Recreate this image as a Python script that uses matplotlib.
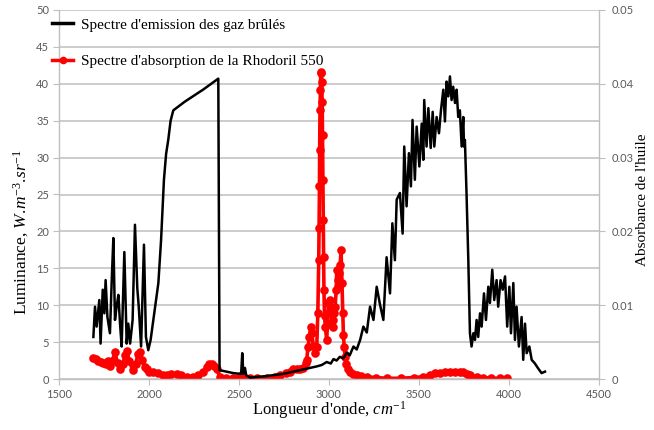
import matplotlib
matplotlib.use('Agg')
import matplotlib.pyplot as plt
from matplotlib.ticker import MultipleLocator, FuncFormatter
from matplotlib.lines import Line2D

plt.rcParams['mathtext.fontset'] = 'custom'
plt.rcParams['mathtext.rm'] = 'Liberation Serif'
plt.rcParams['mathtext.it'] = 'Liberation Serif:italic'

# ---------------- data ----------------
black_wn = [1691, 1700, 1709, 1724, 1731, 1743, 1752, 1759, 1769, 1783,
            1793, 1802, 1811, 1820, 1830, 1839, 1848, 1863, 1876, 1885,
            1895, 1909, 1922, 1935, 1943, 1956, 1972, 1983, 1996, 2009,
            2024, 2052, 2067, 2083, 2095, 2107, 2120, 2135, 2200, 2300,
            2385, 2392, 2468, 2505, 2512, 2518, 2524, 2533, 2540, 2561,
            2653, 2746, 2839, 2931, 2960, 2987, 3010, 3025, 3042, 3060,
            3080, 3100, 3115, 3136, 3154, 3173, 3191, 3210, 3228, 3247,
            3265, 3284, 3302, 3320, 3339, 3352, 3366, 3376, 3394, 3409,
            3418, 3431, 3444, 3455, 3464, 3477, 3487, 3502, 3515, 3524,
            3529, 3542, 3552, 3565, 3576, 3585, 3598, 3611, 3622, 3635,
            3644, 3653, 3663, 3672, 3681, 3690, 3700, 3709, 3718, 3727,
            3737, 3746, 3750, 3755, 3764, 3774, 3783, 3792, 3802, 3811,
            3820, 3829, 3839, 3848, 3861, 3872, 3885, 3894, 3907, 3918,
            3931, 3940, 3953, 3965, 3978, 3990, 4002, 4011, 4024, 4033,
            4042, 4055, 4070, 4079, 4089, 4098, 4113, 4126, 4144, 4163,
            4181, 4200]
black_lum = [5.7, 9.8, 7.1, 10.7, 4.8, 12.1, 8.9, 13.4, 8.4, 6.2,
             13.4, 19.1, 8.0, 9.8, 11.4, 7.5, 4.4, 17.2, 4.8, 7.5,
             4.8, 8.0, 20.9, 12.3, 9.8, 4.4, 18.2, 5.7, 3.9, 5.3,
             8.0, 13.0, 18.8, 27.0, 30.5, 32.4, 35.0, 36.4, 37.6, 39.2,
             40.7, 1.2, 0.8, 0.7, 0.7, 3.5, 0.7, 1.5, 0.5, 0.2,
             0.4, 0.7, 1.2, 1.7, 1.9, 2.3, 2.1, 2.7, 2.5, 3.0,
             2.8, 3.6, 3.2, 4.4, 4.0, 5.3, 7.1, 6.3, 9.8, 8.0,
             12.5, 10.0, 8.0, 16.5, 11.6, 21.1, 16.1, 24.3, 25.2, 19.7,
             31.5, 23.4, 30.6, 26.1, 35.1, 27.0, 34.2, 28.8, 34.6, 29.7,
             37.8, 31.5, 36.7, 31.3, 36.2, 31.5, 35.5, 33.3, 36.4, 39.2,
             34.9, 40.3, 38.3, 41.0, 37.8, 39.6, 37.4, 39.2, 35.5, 36.4,
             31.5, 35.5, 31.5, 32.4, 25.2, 16.1, 6.2, 4.4, 6.2, 5.3,
             8.0, 5.7, 8.9, 7.1, 11.6, 8.0, 12.5, 10.3, 14.8, 10.7,
             13.4, 9.8, 13.4, 12.1, 13.9, 7.1, 12.5, 6.2, 13.0, 5.3,
             9.8, 4.4, 8.4, 2.6, 7.5, 3.5, 4.4, 2.6, 2.1, 1.4,
             0.8, 1.0]

red_wn = [1691, 1705, 1719, 1732, 1746, 1760, 1774, 1783, 1795, 1811,
          1825, 1839, 1855, 1866, 1876, 1890, 1909, 1925, 1940, 1950,
          1962, 1975, 1987, 2000, 2024, 2050, 2075, 2098, 2120, 2154,
          2180, 2210, 2246, 2270, 2300, 2320, 2335, 2348, 2362, 2376,
          2394, 2430, 2468, 2505, 2520, 2561, 2600, 2653, 2700, 2727,
          2760, 2783, 2800, 2820, 2839, 2858, 2870, 2876, 2884, 2891,
          2898, 2904, 2913, 2923, 2932, 2938, 2943, 2945, 2947, 2948,
          2950, 2952, 2954, 2957, 2960, 2962, 2964, 2966, 2968, 2970,
          2972, 2975, 2980, 2987, 2992, 2997, 3002, 3006, 3010, 3015,
          3020, 3024, 3030, 3034, 3040, 3043, 3048, 3052, 3058, 3062,
          3067, 3072, 3076, 3080, 3084, 3090, 3095, 3105, 3117, 3135,
          3154, 3180, 3210, 3260, 3320, 3400, 3470, 3520, 3561, 3590,
          3617, 3645, 3672, 3700, 3730, 3746, 3765, 3783, 3820, 3857,
          3900, 3950, 3987]
red_abs = [0.0029, 0.0027, 0.0025, 0.0023, 0.0022, 0.0020, 0.0024, 0.0018, 0.0024, 0.0036,
           0.0022, 0.0014, 0.0020, 0.0032, 0.0038, 0.0025, 0.0012, 0.0020, 0.0034, 0.0037,
           0.0026, 0.0016, 0.0013, 0.0010, 0.0010, 0.0008, 0.0006, 0.0005, 0.0007, 0.0007,
           0.0005, 0.0003, 0.0003, 0.0005, 0.0009, 0.0016, 0.0020, 0.0021, 0.0018, 0.0013,
           0.0003, 0.0001, 0.0001, 0.0004, 0.0003, 0.0001, 0.0001, 0.0002, 0.0003, 0.0005,
           0.0008, 0.0010, 0.0013, 0.0014, 0.0014, 0.0015, 0.0022, 0.0026, 0.0044, 0.0057,
           0.0070, 0.0063, 0.0045, 0.0035, 0.0044, 0.0090, 0.0161, 0.0205, 0.0261, 0.0310,
           0.0364, 0.0392, 0.0414, 0.0416, 0.0402, 0.0375, 0.0330, 0.0270, 0.0215, 0.0165,
           0.0120, 0.0085, 0.0070, 0.0053, 0.0075, 0.0103, 0.0090, 0.0107, 0.0095, 0.0089,
           0.0070, 0.0080, 0.0090, 0.0098, 0.0120, 0.0148, 0.0125, 0.0134, 0.0143, 0.0155,
           0.0175, 0.0130, 0.0089, 0.0060, 0.0044, 0.0030, 0.0021, 0.0014, 0.0010, 0.0007,
           0.0005, 0.0004, 0.0003, 0.0002, 0.0001, 0.0001, 0.0002, 0.0003, 0.0006, 0.0008,
           0.0008, 0.0009, 0.0009, 0.0010, 0.0009, 0.0009, 0.0007, 0.0005, 0.0003, 0.0002,
           0.0001, 0.0001, 0.0001]

x_ticks = [1500, 2000, 2500, 3000, 3500, 4000, 4500]
label_black = "Spectre d'emission des gaz brûlés"
label_red = "Spectre d'absorption de la Rhodoril 550"

# ---------------- figure ----------------
W, H = 654, 430
fig = plt.figure(figsize=(W / 100, H / 100), dpi=100)
ax = fig.add_axes([59 / W, 1 - 379 / H, 540 / W, 369 / H])
ax2 = ax.twinx()
ax.set_zorder(ax2.get_zorder() + 1)
ax.patch.set_visible(False)

grey = '#BFBFBF'
tick_col = '#595959'
tick_font = {'family': 'Lato', 'size': 8}

ax2.plot(red_wn, red_abs, color='#FF0000', lw=2.6, marker='o', ms=6.2,
         mew=0, zorder=3)
ax.plot(black_wn, black_lum, color='black', lw=1.8, zorder=3)

ax.set_xlim(1500, 4500)
ax.set_ylim(0, 50)
ax2.set_ylim(0, 0.05)

ax.set_xticks(x_ticks)
ax.yaxis.set_major_locator(MultipleLocator(5))
ax2.yaxis.set_major_locator(MultipleLocator(0.01))
ax2.yaxis.set_minor_locator(MultipleLocator(0.005))
ax2.yaxis.set_major_formatter(FuncFormatter(lambda v, p: '0' if abs(v) < 1e-9 else f'{v:.2f}'))
ax2.grid(which='both', axis='y', color=grey, lw=1.1)
ax2.tick_params(axis='y', which='minor', length=0)

for a in (ax, ax2):
    for s in a.spines.values():
        s.set_color(grey)
        s.set_linewidth(1.0)
    a.spines['top'].set_visible(False)
ax2.spines['left'].set_visible(False)
ax2.spines['bottom'].set_visible(False)
ax.spines['right'].set_visible(False)

ax.tick_params(axis='both', which='major', direction='out', length=4,
               color=grey, labelcolor=tick_col, pad=3)
ax2.tick_params(axis='y', which='major', direction='out', length=4,
                color=grey, labelcolor=tick_col, pad=5)
for lab in ax.get_xticklabels() + ax.get_yticklabels() + ax2.get_yticklabels():
    lab.set_fontfamily(tick_font['family'])
    lab.set_fontsize(tick_font['size'])

serif = 'Liberation Serif'
fig.text(329 / W, 1 - 410 / H, r"Longueur d'onde, $\mathit{cm^{-1}}$",
         ha='center', va='center', family=serif, fontsize=12)
fig.text(21 / W, 1 - 232 / H, r"Luminance, $\mathit{W.\!m^{-3}.\!sr^{-1}}$",
         ha='center', va='center', rotation=90, family=serif, fontsize=12.5)
fig.text(643 / W, 1 - 200 / H, "Absorbance de l'huile",
         ha='center', va='center', rotation=90, family=serif, fontsize=11)

handles = [Line2D([], [], color='black', lw=2.5),
           Line2D([], [], color='#FF0000', lw=2.5, marker='o', ms=5.5, mew=0)]
ax.legend(handles, [label_black, label_red], loc='upper left',
          bbox_to_anchor=(52 / W, 1 - 18 / H), bbox_transform=fig.transFigure,
          frameon=False, prop={'family': serif, 'size': 11},
          handlelength=1.4, handletextpad=0.5, labelspacing=1.5,
          borderpad=0, borderaxespad=0, numpoints=1)

fig.savefig('out.png', dpi=100)
